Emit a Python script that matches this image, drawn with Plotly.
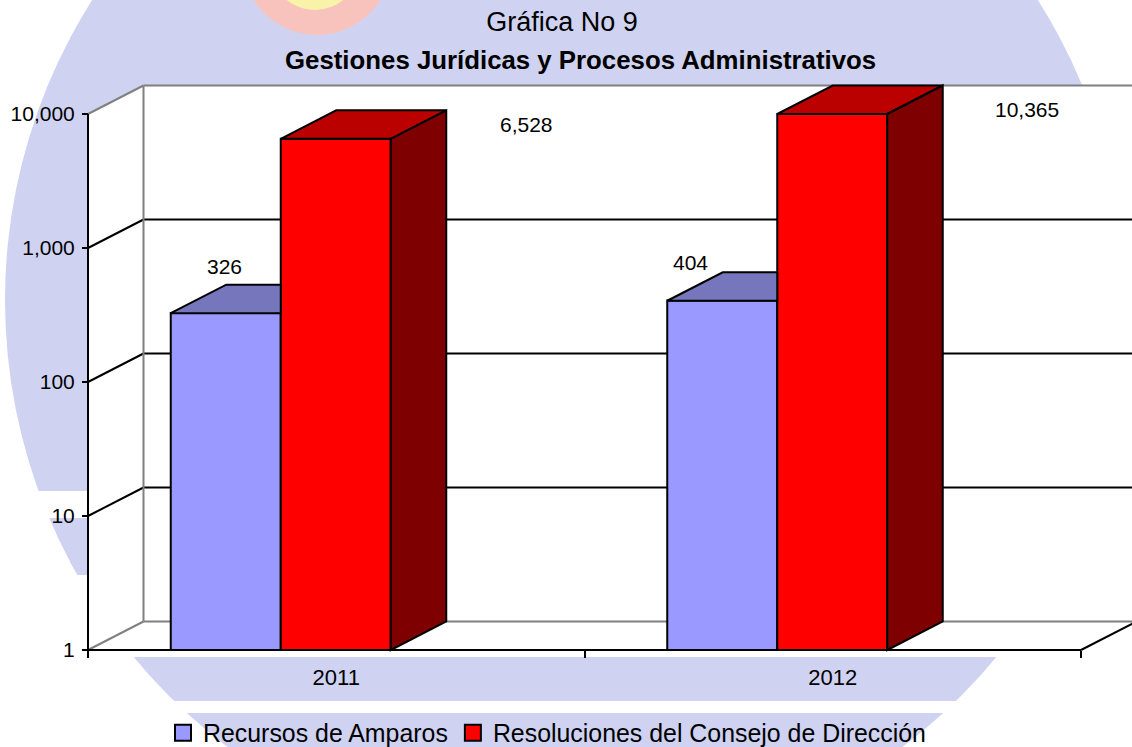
import plotly.graph_objects as go

years = ["2011", "2012"]
series_names = ["Recursos de Amparos", "Resoluciones del Consejo de Dirección"]
amparos = [326, 404]
resoluciones = [6528, 10365]
y_ticks = [1, 10, 100, 1000, 10000]
y_tick_text = ["1", "10", "100", "1,000", "10,000"]

FONT = "Liberation Sans"
W, H = 1132, 747
AXIS_X, FLOOR_Y, PLOT_L, PLOT_T = 88, 650, 60, 78
CAT_PX = 496.5
DEC_PX = 134.0
DX_PX, DY_PX = 55.5, 28.5
AXIS_MAX = 10000

dx = DX_PX / CAT_PX
dlog = DY_PX / DEC_PX
k = 10 ** dlog
xmin = (PLOT_L - AXIS_X) / CAT_PX
xmax = (W - AXIS_X) / CAT_PX
ymin = -(H - FLOOR_Y) / DEC_PX
ymax = (FLOOR_Y - PLOT_T) / DEC_PX
bar_w = 110 / CAT_PX


def px(v):
    return (v - PLOT_L) / (W - PLOT_L)


def py(v):
    return (H - v) / (H - PLOT_T)


centres = [i + 0.5 for i in range(len(years))]
front = [c - dx for c in centres]
blue_h = [min(v, AXIS_MAX) for v in amparos]
red_h = [min(v, AXIS_MAX) for v in resoluciones]
BLUE, RED = "#9999ff", "#ff0000"

fig = go.Figure()
fig.add_trace(go.Bar(x=[f - bar_w / 2 for f in front], y=blue_h, base=1, name=series_names[0], width=bar_w,
                     showlegend=False, marker=dict(color=BLUE, line=dict(color="black", width=2))))
fig.add_trace(go.Bar(x=[f + bar_w / 2 for f in front], y=red_h, base=1, name=series_names[1], width=bar_w,
                     showlegend=False, marker=dict(color=RED, line=dict(color="black", width=2))))


def poly(xs, ys, color):
    fig.add_trace(go.Scatter(x=xs + xs[:1], y=ys + ys[:1], mode="lines", fill="toself",
                             fillcolor=color, line=dict(color="black", width=2),
                             showlegend=False, hoverinfo="skip"))


for f, b, r in zip(front, blue_h, red_h):
    x0, x1, x2 = f - bar_w, f, f + bar_w
    poly([x0, x1, x1, x0 + dx], [b, b, b * k, b * k], "#7676bc")
    poly([x1, x2, x2 + dx, x1 + dx], [r, r, r * k, r * k], "#bb0000")
    poly([x2, x2 + dx, x2 + dx, x2], [r, r * k, k, 1], "#7f0000")

for name, col in zip(series_names, [BLUE, RED]):
    fig.add_trace(go.Scatter(x=[None], y=[None], mode="markers", name=name,
                             marker=dict(symbol="square", size=16, color=col, line=dict(color="black", width=2))))

LAV = "#cfd3f1"
shapes = [
    dict(type="circle", xref="paper", yref="paper", x0=px(5), x1=px(1125), y0=py(860), y1=py(-260),
         fillcolor=LAV, line_width=0, layer="below"),
    dict(type="circle", xref="paper", yref="paper", x0=px(242), x1=px(392), y0=py(35), y1=py(-115),
         fillcolor="#f9c3bd", line_width=0, layer="below"),
    dict(type="circle", xref="paper", yref="paper", x0=px(270), x1=px(360), y0=py(10), y1=py(-80),
         fillcolor="#f8f3a8", line_width=0, layer="below"),
]
for a, b, c, d in [(0, 88, 491, 518), (0, 88, 575, 650), (0, 1132, 650, 657),
                   (0, 1132, 701, 713)]:
    shapes.append(dict(type="rect", xref="paper", yref="paper", x0=px(a), x1=px(b), y0=py(c), y1=py(d),
                       fillcolor="white", line_width=0, layer="below"))
shapes.append(dict(type="path", xref="paper", yref="paper", layer="below", line_width=0, fillcolor="white",
                   path=f"M{px(88)},{py(113.5)} L{px(143)},{py(85)} L{px(1132)},{py(85)} L{px(1132)},{py(650)} L{px(88)},{py(650)} Z"))
GREY = "#808080"


def seg(x0, y0, x1, y1, color, width=2):
    shapes.append(dict(type="line", xref="x", yref="y", x0=x0, y0=y0, x1=x1, y1=y1,
                       line=dict(color=color, width=width), layer="below"))


for v in y_ticks:
    col = GREY if v in (1, AXIS_MAX) else "black"
    seg(0, v, dx, v * k, col)
    seg(dx, v * k, xmax, v * k, col)
seg(dx, k, dx, AXIS_MAX * k, GREY)
seg(0, 1, 0, AXIS_MAX, "black")
seg(0, 1, 2, 1, "black")
seg(2, 1, 2 + dx, k, "black")

anns = [
    dict(text="<b>Gestiones Jurídicas y Procesos Administrativos</b>", xref="paper", yref="paper",
         x=px(580), y=py(60), xanchor="center", yanchor="middle", showarrow=False,
         font=dict(family=FONT, size=25.8, color="black")),
]
label_pos = [(224, 266), (690, 262), (526, 124), (1027, 110)]
for (lx, ly), v in zip(label_pos, amparos + resoluciones):
    anns.append(dict(text=f"{v:,}", xref="paper", yref="paper", x=px(lx), y=py(ly),
                     xanchor="center", yanchor="middle", showarrow=False,
                     font=dict(family=FONT, size=21, color="black")))

fig.update_layout(
    width=W, height=H, autosize=False,
    margin=dict(l=PLOT_L, r=0, t=PLOT_T, b=0, pad=0, autoexpand=False),
    paper_bgcolor="white", plot_bgcolor="rgba(0,0,0,0)",
    barmode="overlay",
    title=dict(text="Gráfica No 9", x=562 / W, y=1 - 22 / H, xanchor="center", yanchor="middle",
               font=dict(family=FONT, size=27, color="black")),
    xaxis=dict(range=[xmin, xmax], showgrid=False, zeroline=False, showline=False,
               anchor="free", position=py(FLOOR_Y),
               tickmode="array", tickvals=centres, ticktext=years,
               ticks="outside", ticklen=8, tickcolor="rgba(0,0,0,0)",
               tickfont=dict(family=FONT, size=22, color="black"),
               minor=dict(tickmode="array", tickvals=[0, 1, 2], ticks="outside", ticklen=7, tickwidth=1.5,
                          tickcolor="black", showgrid=False)),
    yaxis=dict(type="log", range=[ymin, ymax], showgrid=False, zeroline=False, showline=False,
               anchor="free", position=px(AXIS_X),
               tickmode="array", tickvals=y_ticks, ticktext=y_tick_text,
               ticks="outside", ticklen=6, tickwidth=2, tickcolor="black",
               ticklabelstandoff=3,
               tickfont=dict(family=FONT, size=21, color="black")),
    legend=dict(orientation="h", xref="paper", yref="paper", x=px(163), y=py(733),
                xanchor="left", yanchor="middle",
                font=dict(family=FONT, size=24.9, color="black"), bgcolor="rgba(0,0,0,0)",
                traceorder="normal", itemclick=False, itemdoubleclick=False),
    shapes=shapes,
    annotations=anns,
    showlegend=True,
)
fig.write_html("out.html", config={"displayModeBar": False}, post_script="document.body.style.margin='0';")
